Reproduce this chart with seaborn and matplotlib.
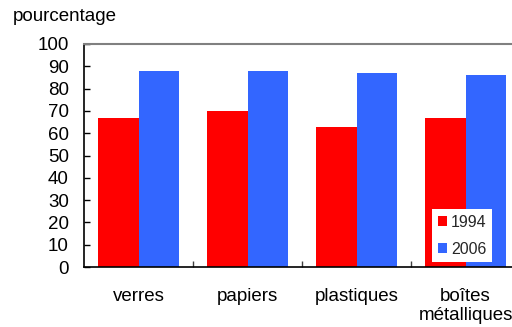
import matplotlib
matplotlib.use("Agg")
import matplotlib.pyplot as plt
import seaborn as sns
import pandas as pd

categories = ["verres", "papiers", "plastiques", "boîtes\nmétalliques"]
values_1994 = [67, 70, 63, 67]
values_2006 = [88, 88, 87, 86]
years = ["1994", "2006"]
yticks = list(range(0, 101, 10))

df = pd.DataFrame({
    "categorie": categories * 2,
    "annee": [years[0]] * len(categories) + [years[1]] * len(categories),
    "valeur": values_1994 + values_2006,
})

sns.set_theme(style="white")
plt.rcParams["font.family"] = ["Liberation Sans", "DejaVu Sans"]

fig = plt.figure(figsize=(5.12, 3.27), dpi=100)
ax = fig.add_axes([84 / 512, 60 / 327, 436 / 512, 223 / 327])

sns.barplot(data=df, x="categorie", y="valeur", hue="annee",
            palette={"1994": "#FF0000", "2006": "#3366FF"},
            width=0.75, saturation=1, ax=ax, linewidth=0, edgecolor="none")

ax.set_xlim(-0.5, 3.5)
ax.set_ylim(0, 100)
ax.set_yticks(yticks)
ax.set_yticklabels([str(t) for t in yticks], fontsize=13.5, color="black")
ax.set_xlabel("")
ax.set_ylabel("")

ax.tick_params(axis="y", direction="in", length=4, width=1, color="black", pad=11, left=True)
ax.tick_params(axis="x", which="major", length=0, pad=15, labelsize=13.5, labelcolor="black")
ax.set_xticks([0.5, 1.5, 2.5], minor=True)
ax.tick_params(axis="x", which="minor", direction="in", length=4, width=1, color="#404040", bottom=True)

for side in ["left", "bottom"]:
    ax.spines[side].set_color("black")
    ax.spines[side].set_linewidth(1.2)
ax.spines["top"].set_color("#808080")
ax.spines["top"].set_linewidth(1.5)
ax.spines["right"].set_visible(False)

ax.legend_.remove()
handles, labels = ax.get_legend_handles_labels()
fig.legend(handles, labels, loc="upper left",
           bbox_to_anchor=(432 / 512, 1 - 209 / 327), bbox_transform=fig.transFigure,
           frameon=True, facecolor="white", edgecolor="none", framealpha=1,
           fontsize=11.5, handlelength=0.6, handleheight=0.6, handletextpad=0.25,
           labelspacing=0.75, borderpad=0.35, borderaxespad=0, fancybox=False)

fig.text(13 / 512, 1 - 8 / 327, "pourcentage", fontsize=13.5, va="top", ha="left", color="black")

fig.savefig("out.png", dpi=100)
